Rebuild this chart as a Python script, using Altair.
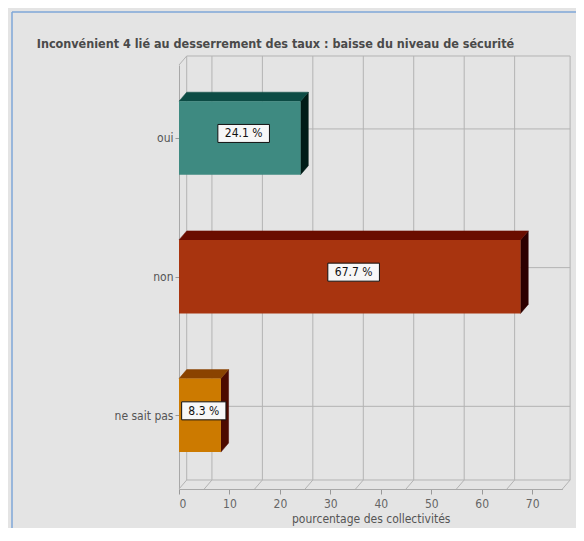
import altair as alt
import pandas as pd

# ---------------- data ----------------
categories = ["oui", "non", "ne sait pas"]
values = [24.1, 67.7, 8.3]
labels = ["24.1 %", "67.7 %", "8.3 %"]
x_ticks = [0, 10, 20, 30, 40, 50, 60, 70]
grid_values = [5, 15, 25, 35, 45, 55, 65]

title_text = "Inconvénient 4 lié au desserrement des taux : baisse du niveau de sécurité"
x_title = "pourcentage des collectivités"

# ---------------- style ----------------
front_colors = {"oui": "#3e8a81", "non": "#a8340f", "ne sait pas": "#cc7a00"}
top_colors = {"oui": "#0c4c45", "non": "#6a0d00", "ne sait pas": "#8a4300"}
side_colors = {"oui": "#001c17", "non": "#2c0000", "ne sait pas": "#4c0a00"}
GRID = "#b3b3b3"
BG = "#e4e4e4"
FONT = "DejaVu Sans Condensed, Liberation Sans, sans-serif"
TITLE_FONT = "DejaVu Sans Condensed, Liberation Sans, sans-serif"

X_MAX = 76
Y_MIN, Y_MAX = -0.031, 3.026
DX, DY = 1.53, 0.065   # 3D depth in data units
HALF = 0.265           # half bar thickness
W, H = 383.4, 424
PAD_L, PAD_T = 171, 57
TOTAL_W, TOTAL_H = 568, 520

n = len(categories)
pos = [n - 1 - i + 0.5 for i in range(n)]

xs = alt.Scale(domain=[0, X_MAX], nice=False, zero=False)
ys = alt.Scale(domain=[Y_MIN, Y_MAX], nice=False, zero=False)

# ---------------- wall / floor lines ----------------
lines = []
yb0, yb1 = Y_MIN + DY, Y_MAX + DY
for g in grid_values:
    lines.append(dict(x=g + DX, x2=g + DX, y=yb0, y2=yb1))      # back verticals
    lines.append(dict(x=g, x2=g + DX, y=Y_MIN, y2=yb0))          # floor diagonals
for p in pos:
    lines.append(dict(x=DX, x2=X_MAX + DX, y=p + DY, y2=p + DY))  # back horizontals
lines.append(dict(x=DX, x2=DX, y=yb0, y2=yb1))
lines.append(dict(x=X_MAX + DX, x2=X_MAX + DX, y=yb0, y2=yb1))
lines.append(dict(x=DX, x2=X_MAX + DX, y=yb1, y2=yb1))
lines.append(dict(x=DX, x2=X_MAX + DX, y=yb0, y2=yb0))
lines.append(dict(x=0, x2=DX, y=Y_MAX, y2=yb1))
lines.append(dict(x=0, x2=DX, y=Y_MIN, y2=yb0))
lines.append(dict(x=X_MAX, x2=X_MAX + DX, y=Y_MIN, y2=yb0))
lines_df = pd.DataFrame(lines)

walls = alt.Chart(lines_df).mark_rule(color=GRID, strokeWidth=1).encode(
    x=alt.X("x:Q", scale=xs, axis=None),
    x2="x2:Q",
    y=alt.Y("y:Q", scale=ys, axis=None),
    y2="y2:Q",
)

# ---------------- bars ----------------
front_df = pd.DataFrame({
    "cat": categories,
    "val": values,
    "y0": [p - HALF for p in pos],
    "y1": [p + HALF for p in pos],
    "color": [front_colors[c] for c in categories],
})

side_rows, top_rows = [], []
for c, v, p in zip(categories, values, pos):
    side_rows.append(dict(cat=c, x=v, y=p - HALF, y2=p + HALF, color=side_colors[c]))
    side_rows.append(dict(cat=c, x=v + DX, y=p - HALF + DY, y2=p + HALF + DY, color=side_colors[c]))
    top_rows.append(dict(cat=c, y=p + HALF, x=0, x2=v, color=top_colors[c]))
    top_rows.append(dict(cat=c, y=p + HALF + DY, x=DX, x2=v + DX, color=top_colors[c]))
side_df = pd.DataFrame(side_rows)
top_df = pd.DataFrame(top_rows)

side = alt.Chart(side_df).mark_area(orient="vertical", strokeWidth=0.5).encode(
    x=alt.X("x:Q", scale=xs, axis=None),
    y=alt.Y("y:Q", scale=ys, axis=None),
    y2="y2:Q",
    detail="cat:N",
    fill=alt.Fill("color:N", scale=None),
    stroke=alt.Stroke("color:N", scale=None),
)

top = alt.Chart(top_df).mark_area(orient="horizontal", strokeWidth=0.5).encode(
    y=alt.Y("y:Q", scale=ys, axis=None),
    x=alt.X("x:Q", scale=xs, axis=None),
    x2="x2:Q",
    detail="cat:N",
    fill=alt.Fill("color:N", scale=None),
    stroke=alt.Stroke("color:N", scale=None),
)

label_expr = " : ".join(
    f"datum.value == {p} ? '{c}'" for c, p in zip(categories, pos)
) + " : ''"

front = alt.Chart(front_df).mark_rect().encode(
    x=alt.X(
        "zero:Q", scale=xs,
        axis=alt.Axis(
            values=x_ticks, title=x_title, grid=False,
            labelFont=FONT, labelFontSize=12, labelColor="#666666",
            titleFont=FONT, titleFontSize=12, titleColor="#555555", titleFontWeight="normal",
            tickColor="#999999", tickSize=5, domainColor="#a8a8a8",
            labelPadding=4, titlePadding=4,
        ),
    ),
    x2="val:Q",
    y=alt.Y(
        "y0:Q", scale=ys,
        axis=alt.Axis(
            values=pos, labelExpr=label_expr, title=None, grid=False,
            labelFont=FONT, labelFontSize=12, labelColor="#555555",
            tickColor="#999999", tickSize=4, domainColor="#a8a8a8", labelPadding=2,
        ),
    ),
    y2="y1:Q",
    fill=alt.Fill("color:N", scale=None),
).transform_calculate(zero="0")

# ---------------- value labels ----------------
lab_rows = []
for c, v, p, t in zip(categories, values, pos, labels):
    w = 7.3 * len(t) + 7.8
    hh = 18.0 / w
    lab_rows.append(dict(
        cat=c, x=v / 2 + DX / 2, y=p + DY / 2, text=t,
        shape=f"M-1,{-hh:.4f}L1,{-hh:.4f}L1,{hh:.4f}L-1,{hh:.4f}Z", size=w * w,
    ))
lab_df = pd.DataFrame(lab_rows)

boxes = alt.Chart(lab_df).mark_point(
    filled=True, fill="#f7f7f7", stroke="#111111", strokeWidth=1, opacity=1
).encode(
    x=alt.X("x:Q", scale=xs, axis=None),
    y=alt.Y("y:Q", scale=ys, axis=None),
    shape=alt.Shape("shape:N", scale=None),
    size=alt.Size("size:Q", scale=None),
)

texts = alt.Chart(lab_df).mark_text(font=FONT, fontSize=12, color="#111111").encode(
    x=alt.X("x:Q", scale=xs, axis=None),
    y=alt.Y("y:Q", scale=ys, axis=None),
    text="text:N",
)

# ---------------- frame and title ----------------
frame_df = pd.DataFrame({"a": [0]})
frame_v = alt.Chart(frame_df).mark_rule(color="#7fa7d9", strokeWidth=1.5).encode(
    x=alt.value(-PAD_L + 4), y=alt.value(-PAD_T + 4), y2=alt.value(TOTAL_H)
)
frame_h = alt.Chart(frame_df).mark_rule(color="#7fa7d9", strokeWidth=1.5).encode(
    y=alt.value(-PAD_T + 4), x=alt.value(-PAD_L + 4), x2=alt.value(TOTAL_W)
)
title_df = pd.DataFrame({"t": [title_text]})
title_mark = alt.Chart(title_df).mark_text(
    align="left", baseline="alphabetic", font=TITLE_FONT, fontSize=12.5,
    fontWeight="bold", color="#4a4a4a",
).encode(x=alt.value(-PAD_L + 28.7), y=alt.value(-17.3), text="t:N")

chart = alt.layer(
    frame_v, frame_h, title_mark, walls, side, top, front, boxes, texts
).resolve_axis(
    x="independent", y="independent"
).properties(
    width=W,
    height=H,
    autosize=alt.AutoSizeParams(type="none"),
    padding={"left": PAD_L, "top": PAD_T, "right": TOTAL_W - PAD_L - W, "bottom": TOTAL_H - PAD_T - H},
    background=BG,
).configure_view(stroke=None)

chart.save("out.html", embed_options={"renderer": "svg", "actions": False})
